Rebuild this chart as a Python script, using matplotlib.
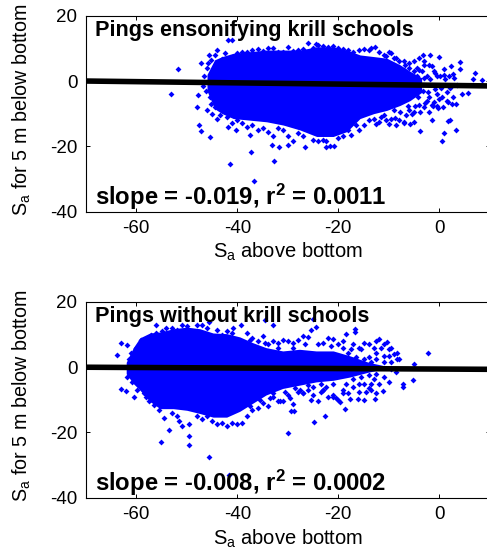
# krill school backscatter, two panels
import matplotlib
matplotlib.use('Agg')
import matplotlib.pyplot as plt

plt.rcParams['font.family'] = ['Liberation Sans', 'DejaVu Sans']
plt.rcParams['mathtext.default'] = 'regular'
plt.rcParams['axes.unicode_minus'] = False

# dense cloud: points overlap completely here, so it is kept as an envelope
core1_x = [-46, -44.5, -43, -40.8, -37.5, -34.2, -30.9, -27.6, -24.3, -21, -18.3, -15.7, -13, -10.4, -7.8, -5.8, -3.5]
core1_hi = [2, 6.5, 7.5, 8.5, 9, 9.5, 9.5, 9.5, 10.5, 10.5, 9.5, 8, 7.5, 7, 5, 3, 1]
core1_lo = [-3, -8.5, -10, -11.5, -12, -12.5, -13.5, -15, -17, -17, -15.5, -11.5, -10, -9, -7.5, -6, -3.5]

top_pts = [
    (-51.7, 3.6), (-53.1, -4), (-41.8, 12.6), (-41, 12.6), (-26, 11.8), (-24.4, 11.4), (-47.1, 5.6), (-45.7, 8.1),
    (-44.1, 9.5), (-47.9, -8.1), (-47.6, -13.5), (-47.2, -15.3), (-45.5, -17.2), (-47.7, -4.3), (-37.2, -21.7),
    (-41.5, -25.3), (-32.7, -24.6), (-36.7, -30.8), (-37.4, -16.5), (-41.8, -14.2), (-40.3, -15), (-26.5, -20.2),
    (-22.5, -20.2), (-21.7, -19.9), (-20.8, -19.9), (-30, -19.5), (-31.7, -20.2), (-33.2, -19.5), (0.5, -18.3),
    (1, -15.8), (3.4, -15), (1.8, -12.2), (2.2, -12), (-1.4, -12.1), (-3.8, -15.3), (-5.1, -12.7), (-6.9, -12.5),
    (-5.9, -13.2), (-8.6, -13.6), (7.1, 2.6), (4, 5.9), (4, 3.6), (0, 7.4), (-1.8, 8.1), (-3.2, 8), (8.5, 0.3),
    (6.7, 0.6), (2.4, 4.6), (1, 3.6), (5.7, -3.6), (4.4, -4.1), (2.7, -4.8), (1.8, -6.4), (3.4, -6.9), (-1.2, -7.8),
    (-0.5, -7.6), (-12.7, 10.5), (-44.5, 8), (-43, 6.8), (-42.5, 8.5), (-41, 7.5), (-40, 8.5), (-39, 9), (-38, 8.8),
    (-37, 9.5), (-36, 9.9), (-35, 9.3), (-34, 10), (-33, 10), (-32, 9), (-31, 8.8), (-30, 10.3), (-29, 9.2),
    (-28, 9.5), (-27, 9.9), (-25, 10.2), (-24, 11), (-23, 10.8), (-22, 10.4), (-21, 10.6), (-20, 10), (-19, 9.9),
    (-18, 9.6), (-17, 9), (-16, 9.5), (-15, 9.8), (-14, 9.5), (-13.5, 10), (-12, 9), (-11, 8), (-10, 9), (-9.5, 8.5),
    (-9, 7), (-8, 6), (-7, 6.2), (-6, 5.5), (-5, 6), (-4, 7), (-3, 6), (-2, 5), (-1, 3), (-0.5, 1.5), (-46, 4),
    (-45.5, -5), (-46, -9), (-45, -10), (-44.5, -8), (-44, -11.5), (-43.5, -10.5), (-43, -9), (-42, -11), (-41, -12.8),
    (-40, -12), (-39, -13), (-38, -14), (-37, -13.5), (-36, -15), (-35, -14.5), (-34, -15.5), (-33, -17), (-32, -14.5),
    (-31, -15), (-30, -17), (-29, -18.5), (-28, -16), (-27, -17), (-25, -18), (-24, -18.5), (-23, -18), (-22.5, -18.5),
    (-20, -17.5), (-19, -17), (-18, -15), (-17.5, -16.5), (-16.5, -13.5), (-16, -15), (-15, -13.5), (-14, -12),
    (-13, -11.5), (-12.5, -13.2), (-11.5, -11), (-11, -10.5), (-10, -13.2), (-9.5, -11.5), (-9, -9), (-8, -12),
    (-7, -13), (-6, -9), (-5.5, -10), (-5, -9.5), (-4, -7.2), (-3, -8), (-2.5, -6), (-2, -5), (-1.5, -7.5), (-1, -6.5),
    (-0.5, -4), (0, -5.5), (0.5, -5), (1.5, -6), (2.5, -7), (3, 1), (1, 2), (-4.5, 4), (-3.5, 3), (-3, 5), (-2, -9.5),
    (-6.5, -10.5), (-7.5, 2), (-4, 3.5), (-2.5, 1.5), (-1.5, 4.5), (-0.8, 2.5), (0.2, 1.5), (1.2, 0.5), (2, 1.5),
    (-46.5, 1.5), (-46.8, -1.5), (-45.8, 5.5), (-45.2, 6.5), (-46.2, -3), (-45.2, -7), (-7, 3.5), (-6, 4), (-5, 3),
    (-4.5, 1.5), (-3, 1), (-1.8, 0.5), (-3.2, -3), (-4.2, -5), (-2.2, -3.5), (-0.8, -2.5), (0.3, -2.2), (1.5, -3.5),
    (-6.2, -7.8), (-7.8, -9.5), (-8.8, -11.2), (-10.5, -11.8), (-12, -12.5), (-6.8, 5), (-8.5, 7.2), (-10.5, 7.8),
    (2.8, 2.2), (3.6, -1.2), (2.2, -2.2), (-3.8, -9.6), (-4.8, -7.8), (-2.8, -6.8), (-0.2, -8.2), (0.8, -8),
]

core2_x = [-62, -60.6, -59.3, -57.3, -55.3, -52.7, -50, -47.4, -44.8, -42.1, -39.5, -36.9, -34.3, -31, -27.7, -24.4, -21, -17.7, -14, -11]
core2_hi = [1.5, 6, 9, 10.5, 10.8, 11.8, 12.3, 11.8, 10.5, 10.3, 9.3, 7.5, 6, 5, 5.5, 5, 5, 3.5, 1.5, 0.5]
core2_lo = [-2, -5, -7, -10.5, -12.7, -12.7, -13.2, -14.2, -15.3, -15.3, -13.5, -11, -8.5, -6.5, -5.5, -4.5, -4, -3, -1.5, -0.5]

low_pts = [
    (-63.8, 3.6), (-63, 7.4), (-61.8, 6.7), (-63, -6.6), (-62.1, -7.3), (-60.5, -9.1), (-55.2, -22.8), (-53.6, -19.1),
    (-51, -18), (-49.5, -17.3), (-49.5, -21.1), (-49.5, -23.9), (-45.7, -27.5), (-41.7, -33), (-56.1, 12.8),
    (-54.1, 12.1), (-45.7, 13.9), (-40.8, 12.1), (-39.3, 13.1), (-34.5, 14.6), (-32.9, 12.9), (-25, 14.9), (-24.4, 12.3),
    (-25.5, 11.5), (-18.4, 10.3), (-16.6, 11.8), (-16.6, 10.8), (-12, 8.8), (-10.4, 7.7), (-2.2, 4.4), (-5, 1.1),
    (-5.3, -4), (-7.1, -5), (-7.1, -6.1), (-8.4, 4.4), (-8.4, 2.6), (-11.2, -7.4), (-12.7, -9.6), (-18.7, -12.9),
    (-22.6, -15), (-24.8, -16.8), (-30, -20.2), (-28.9, -11.2), (-29.4, -13.5), (-28.7, -13.5), (-19.6, -10.8),
    (-17.6, -9.8), (-16.1, -9.8), (-60, 6), (-59, 8.5), (-58, 8), (-57, 10), (-56, 10.5), (-55, 11), (-53, 12),
    (-52, 11.5), (-51, 13), (-50, 12.5), (-48, 12.8), (-47, 13), (-46, 12), (-44, 11.5), (-43, 10), (-42, 11),
    (-41, 10.5), (-38, 10.5), (-37, 9), (-36, 8), (-35, 9.5), (-34, 7), (-33, 8), (-32, 7.5), (-31, 8.5), (-30, 8),
    (-29, 7.5), (-28, 8.5), (-27, 9.5), (-26, 9.3), (-23, 7.5), (-22, 9), (-21, 8.8), (-20, 7), (-19, 8), (-17, 7),
    (-15, 7.5), (-14, 7), (-13, 6), (-12.5, 8), (-11.5, 6), (-11, 7), (-10, 5.5), (-9.5, 6), (-9, 4), (-58.5, -8),
    (-57.5, -10.5), (-56.5, -11.5), (-55.5, -13), (-54.5, -15.5), (-53, -14), (-52, -15), (-51.5, -16.5), (-48, -15),
    (-47, -16), (-46, -15), (-45, -16.5), (-44, -17.5), (-43, -17), (-42, -18), (-41, -17), (-40, -17.5), (-39, -17),
    (-38, -15), (-37, -13), (-36, -12.5), (-35, -11), (-34, -12), (-33, -9), (-32, -10.5), (-31, -10.5), (-30, -8.5),
    (-28, -7.5), (-27, -8), (-26, -7), (-25, -8.5), (-24, -10.5), (-23, -7), (-22, -9), (-21, -8.5), (-20, -10),
    (-19, -8), (-18, -8), (-16, -7.5), (-15, -10), (-14.5, -7.5), (-13.5, -7), (-12.5, -8), (-12, -5), (-15, -5),
    (-14, -6.5), (-13, -3.5), (-16, -5), (-17, -6), (-19, -7), (-21, -9), (-23, -7), (-25, -6), (-27, -8), (-8, 2.5),
    (-9.5, 1.5), (-11, 3.5), (-10, 3.5), (-12.5, 4.5), (-14, 3), (-15.5, 5.5), (-17.5, 5.5), (-33.5, -9.5),
    (-31.5, -10.5), (-29.5, -9.5), (-27.5, -7), (-25.5, -10), (-23.5, -7.5), (-22.5, -6), (-20.5, -9.5),
    (-18, 4.5), (-16.5, 3), (-15, 2.5), (-13.5, 1.5), (-12.5, 2.5), (-11, 1.5), (-9.5, -0.5), (-8.5, -1.5),
    (-17, -3.5), (-15.5, -3), (-14, -2.5), (-12.5, -2), (-11, -3), (-10, -4.5), (-13.5, -5), (-18.5, -5), (-16, 5.8),
    (-19, 6), (-21.5, 6.5), (-24, 7), (-26.5, 7), (-29, 6), (-32, 6), (-34.5, 7.5), (-37.5, 8.5), (-30.5, -7.5),
    (-28.5, -6.5), (-26, -5.5), (-23.5, -5), (-21, -5), (-33, -8), (-35.5, -10), (-37.5, -12), (-61.5, 2.5), (-61.8, -3),
    (-61, 4.5), (-60.8, -4.5), (-59.8, -7), (-58, -9), (-59, 7.5),
]

fit1_x = [-70, 10]
fit1_y = [0, -1.5]
fit2_x = [-70, 10]
fit2_y = [0, -0.64]

x_ticks = [-60, -40, -20, 0]
y_ticks = [20, 0, -20, -40]

W, H = 487, 554
fig = plt.figure(figsize=(W / 100, H / 100), dpi=100)
# right edge of the axes runs off the picture, as in the original
ax1 = fig.add_axes([85.8 / W, 1 - 211.5 / H, 404 / W, 195.7 / H])
ax2 = fig.add_axes([85.8 / W, 1 - 497.7 / H, 404 / W, 195.7 / H])

panels = [
    (ax1, core1_x, core1_hi, core1_lo, top_pts, fit1_x, fit1_y,
     'Pings ensonifying krill schools', 'slope = -0.019, r$^2$ = 0.0011'),
    (ax2, core2_x, core2_hi, core2_lo, low_pts, fit2_x, fit2_y,
     'Pings without krill schools', 'slope = -0.008, r$^2$ = 0.0002'),
]

for ax, cx, chi, clo, pts, fx, fy, title, stats in panels:
    ax.fill_between(cx, clo, chi, color='#0000ff', lw=0, zorder=2)
    ax.scatter([p[0] for p in pts], [p[1] for p in pts], marker='D', s=9, color='#0000ff', linewidths=0, zorder=2)
    ax.plot(fx, fy, color='black', lw=4, solid_capstyle='butt', zorder=3)
    ax.set_xlim(-70, 10)
    ax.set_ylim(-40, 20)
    ax.set_xticks(x_ticks)
    ax.set_yticks(y_ticks)
    ax.tick_params(direction='in', top=True, right=True, length=3, width=0.7, labelsize=13.5, pad=6)
    for s in ax.spines.values():
        s.set_linewidth(0.8)
    ax.set_xlabel('S$_a$ above bottom', fontsize=14.5, labelpad=3)
    ax.set_ylabel('S$_a$ for 5 m below bottom', fontsize=14.2)
    ax.yaxis.set_label_coords(-0.13, 0.52)
    ax.text(-68.2, 15.5, title, fontsize=15.6, fontweight='bold', va='center', zorder=4)
    ax.text(-68.2, -35.5, stats, fontsize=17.2, fontweight='bold', va='center', zorder=4)

fig.savefig('out.png', dpi=100)
